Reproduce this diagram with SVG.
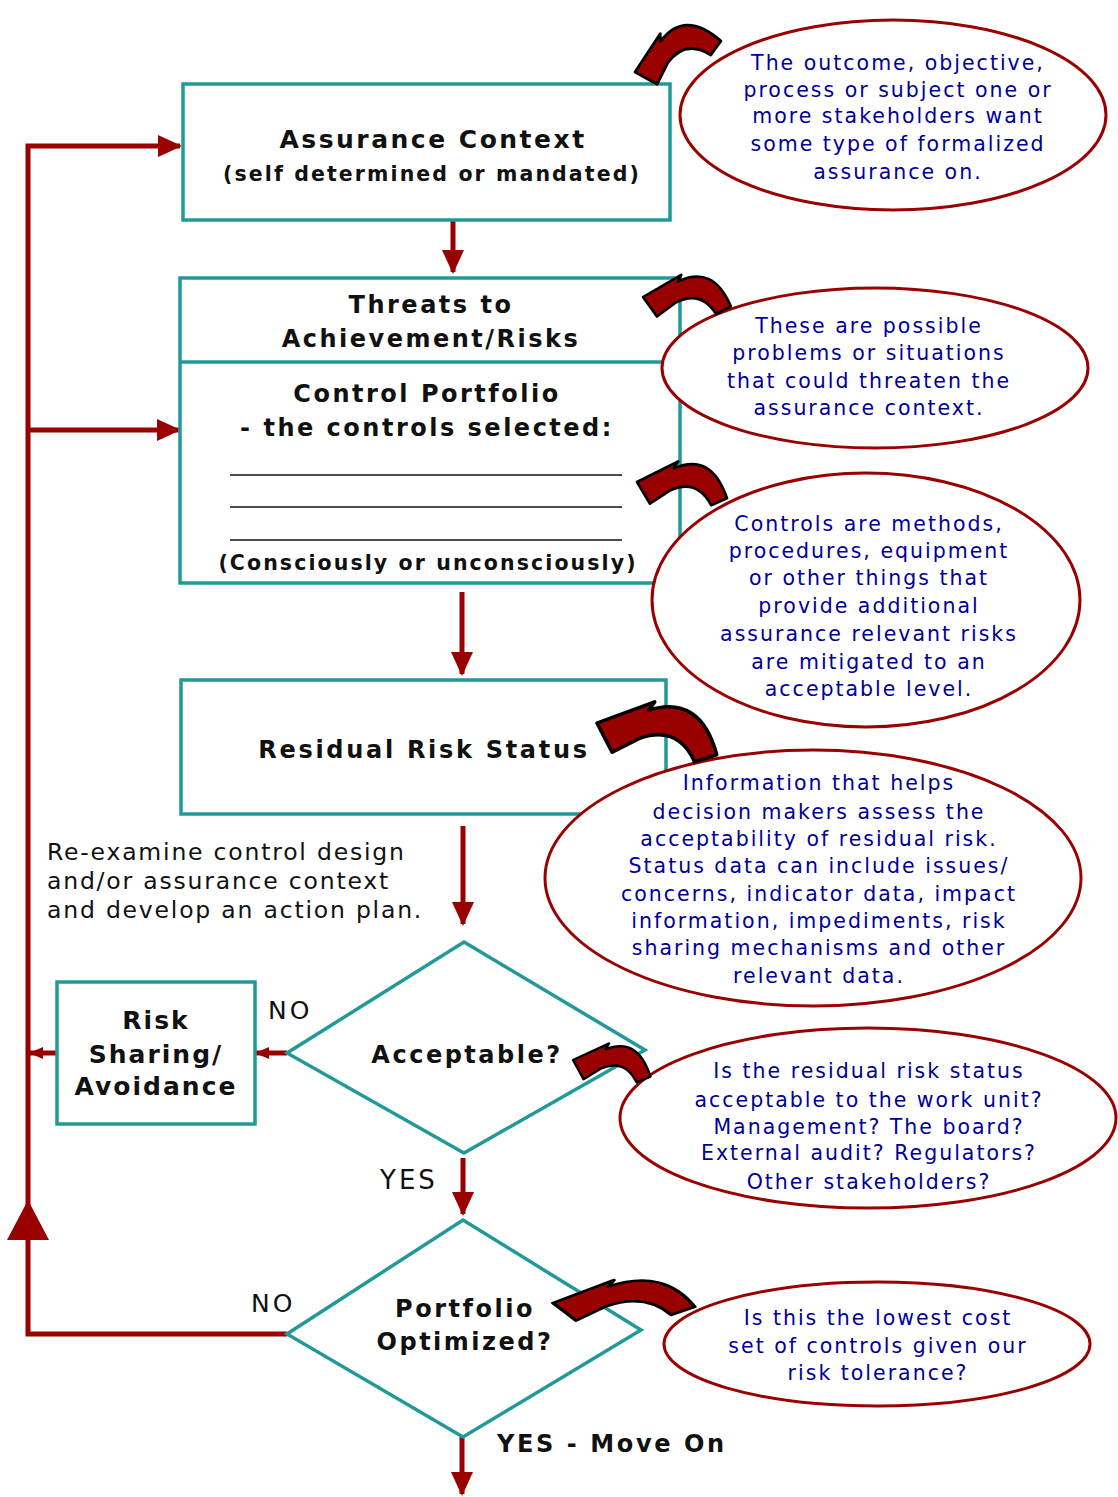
<svg xmlns="http://www.w3.org/2000/svg" width="1118" height="1497" viewBox="0 0 1118 1497">
<style>
.box{fill:#fff;stroke:#229999;stroke-width:3.5}
.ell{fill:#fff;stroke:#990000;stroke-width:3}
.t{font-family:"DejaVu Sans",Verdana,sans-serif;font-weight:bold;fill:#111;text-anchor:middle;letter-spacing:2.5px}
.n{font-family:"DejaVu Sans",Verdana,sans-serif;fill:#111;letter-spacing:1.8px}
.b{font-family:"DejaVu Sans",Verdana,sans-serif;fill:#000099;font-size:20.5px;text-anchor:middle;letter-spacing:2px}
.con{stroke:#990000;stroke-width:5;fill:none}
.ca{fill:#990000;stroke:#000;stroke-width:3;stroke-linejoin:round}
</style>
<defs>
<marker id="ah" markerUnits="userSpaceOnUse" markerWidth="24" markerHeight="24" refX="22" refY="12" orient="auto" viewBox="0 0 24 24">
<path d="M0,1 L24,12 L0,23 Z" fill="#990000"/>
</marker>
<marker id="ahs" markerUnits="userSpaceOnUse" markerWidth="14" markerHeight="14" refX="13" refY="7" orient="auto" viewBox="0 0 14 14">
<path d="M0,1 L14,7 L0,13 Z" fill="#990000"/>
</marker>
<path id="curv" d="M0,25 L44,-1 L40,7 Q80,-14 101,36 L84,45 Q66,16 37,32 L16,48 Z"/>
</defs>
<rect width="1118" height="1497" fill="#fff"/>

<g id="connectors">
<path class="con" d="M453,220 L453,272" marker-end="url(#ah)"/>
<path class="con" d="M462,592 L462,674" marker-end="url(#ah)"/>
<path class="con" d="M463,826 L463,924" marker-end="url(#ah)"/>
<path class="con" d="M463,1158 L463,1214" marker-end="url(#ah)"/>
<path class="con" d="M462,1437 L462,1494" marker-end="url(#ah)"/>
<path class="con" d="M287,1053 L256,1053" stroke-width="4" marker-end="url(#ahs)"/>
<path class="con" d="M57,1053 L30,1053" stroke-width="4" marker-end="url(#ahs)"/>
<path class="con" d="M287,1334 L28,1334 L28,146 L180,146" marker-end="url(#ah)"/>
<path class="con" d="M28,430 L179,430" marker-end="url(#ah)"/>
<path d="M28,1200 L7,1240 L49,1240 Z" fill="#990000"/>
</g>

<g id="assurance-context">
<rect class="box" x="183" y="84" width="487" height="136"/>
<text class="t" x="433" y="148" font-size="25">Assurance Context</text>
<text class="t" x="432" y="181" font-size="20.5" style="letter-spacing:2.1px">(self determined or mandated)</text>
</g>

<g id="threats-controls">
<rect class="box" x="180" y="278" width="500" height="305"/>
<line x1="180" y1="362" x2="680" y2="362" stroke="#229999" stroke-width="3.5"/>
<text class="t" x="431" y="313" font-size="24">Threats to</text>
<text class="t" x="431" y="347" font-size="24">Achievement/Risks</text>
<text class="t" x="427" y="402" font-size="24">Control Portfolio</text>
<text class="t" x="427" y="436" font-size="24">- the controls selected:</text>
<g stroke="#111" stroke-width="1.5">
<line x1="230" y1="475" x2="622" y2="475"/>
<line x1="230" y1="507" x2="622" y2="507"/>
<line x1="230" y1="540" x2="622" y2="540"/>
</g>
<text class="t" x="428" y="570" font-size="20.5" style="letter-spacing:2.1px">(Consciously or unconsciously)</text>
</g>

<g id="residual-risk">
<rect class="box" x="181" y="680" width="485" height="134"/>
<text class="t" x="424" y="758" font-size="24" style="letter-spacing:2.7px">Residual Risk Status</text>
</g>

<g id="reexamine-note">
<text class="n" font-size="23.5"><tspan x="47" y="860">Re-examine control design</tspan><tspan x="47" y="889">and/or assurance context</tspan><tspan x="47" y="918">and develop an action plan.</tspan></text>
</g>

<g id="acceptable">
<path class="box" d="M464,942 L645,1050 L464,1153 L287,1053 Z"/>
<text class="t" x="467" y="1063" font-size="24">Acceptable?</text>
<text class="n" x="268" y="1019" font-size="25" style="letter-spacing:3px">NO</text>
<text class="n" x="380" y="1189" font-size="26" style="letter-spacing:3px">YES</text>
</g>

<g id="risk-sharing">
<rect class="box" x="57" y="982" width="198" height="142"/>
<text class="t" x="156" y="1029" font-size="25" style="letter-spacing:2px">Risk</text>
<text class="t" x="156" y="1063" font-size="25" style="letter-spacing:2px">Sharing/</text>
<text class="t" x="156" y="1095" font-size="25" style="letter-spacing:2px">Avoidance</text>
</g>

<g id="portfolio-optimized">
<path class="box" d="M463,1220 L641,1330 L463,1437 L287,1334 Z"/>
<text class="t" x="465" y="1317" font-size="24">Portfolio</text>
<text class="t" x="465" y="1350" font-size="24">Optimized?</text>
<text class="n" x="251" y="1312" font-size="25" style="letter-spacing:3px">NO</text>
<text class="t" x="497" y="1452" font-size="24" style="text-anchor:start;letter-spacing:2.6px">YES - Move On</text>
</g>

<g id="note-outcome">
<ellipse class="ell" cx="893" cy="115" rx="213" ry="95"/>
<text class="b"><tspan x="898" y="70">The outcome, objective,</tspan><tspan x="898" y="97">process or subject one or</tspan><tspan x="898" y="123">more stakeholders want</tspan><tspan x="898" y="151">some type of formalized</tspan><tspan x="898" y="179">assurance on.</tspan></text>
<use href="#curv" class="ca" transform="translate(635,72) rotate(-26) scale(0.9) translate(0,-25)"/>
</g>

<g id="note-threats">
<ellipse class="ell" cx="875" cy="368" rx="213" ry="80"/>
<text class="b"><tspan x="869" y="333">These are possible</tspan><tspan x="869" y="360">problems or situations</tspan><tspan x="869" y="388">that could threaten the</tspan><tspan x="869" y="415">assurance context.</tspan></text>
<use href="#curv" class="ca" vector-effect="non-scaling-stroke" transform="translate(643,297) scale(0.87,0.85) translate(0,-25)"/>
</g>

<g id="note-controls">
<ellipse class="ell" cx="866" cy="600" rx="214" ry="127"/>
<text class="b"><tspan x="869" y="531">Controls are methods,</tspan><tspan x="869" y="558">procedures, equipment</tspan><tspan x="869" y="585">or other things that</tspan><tspan x="869" y="613">provide additional</tspan><tspan x="869" y="641">assurance relevant risks</tspan><tspan x="869" y="669">are mitigated to an</tspan><tspan x="869" y="696">acceptable level.</tspan></text>
<use href="#curv" class="ca" transform="translate(637,482) rotate(4) scale(0.9) translate(0,-25)"/>
</g>

<g id="note-residual">
<ellipse class="ell" cx="813" cy="878" rx="268" ry="128"/>
<text class="b"><tspan x="819" y="790">Information that helps</tspan><tspan x="819" y="819">decision makers assess the</tspan><tspan x="819" y="846">acceptability of residual risk.</tspan><tspan x="819" y="873">Status data can include issues/</tspan><tspan x="819" y="901">concerns, indicator data, impact</tspan><tspan x="819" y="928">information, impediments, risk</tspan><tspan x="819" y="955">sharing mechanisms and other</tspan><tspan x="819" y="983">relevant data.</tspan></text>
<use href="#curv" class="ca" vector-effect="non-scaling-stroke" transform="translate(597,723) rotate(9) scale(1.22,1.15) translate(0,-25)"/>
</g>

<g id="note-acceptable">
<ellipse class="ell" cx="868" cy="1118" rx="248" ry="90"/>
<text class="b"><tspan x="869" y="1078">Is the residual risk status</tspan><tspan x="869" y="1107">acceptable to the work unit?</tspan><tspan x="869" y="1134">Management? The board?</tspan><tspan x="869" y="1160">External audit? Regulators?</tspan><tspan x="869" y="1189">Other stakeholders?</tspan></text>
<use href="#curv" class="ca" transform="translate(573,1060) rotate(6) scale(0.78) translate(0,-25)"/>
</g>

<g id="note-optimized">
<ellipse class="ell" cx="877" cy="1344" rx="213" ry="62"/>
<text class="b"><tspan x="878" y="1325">Is this the lowest cost</tspan><tspan x="878" y="1353">set of controls given our</tspan><tspan x="878" y="1380">risk tolerance?</tspan></text>
<use href="#curv" class="ca" vector-effect="non-scaling-stroke" transform="translate(553,1303) rotate(-2) scale(1.4,0.8) translate(0,-25)"/>
</g>
</svg>
